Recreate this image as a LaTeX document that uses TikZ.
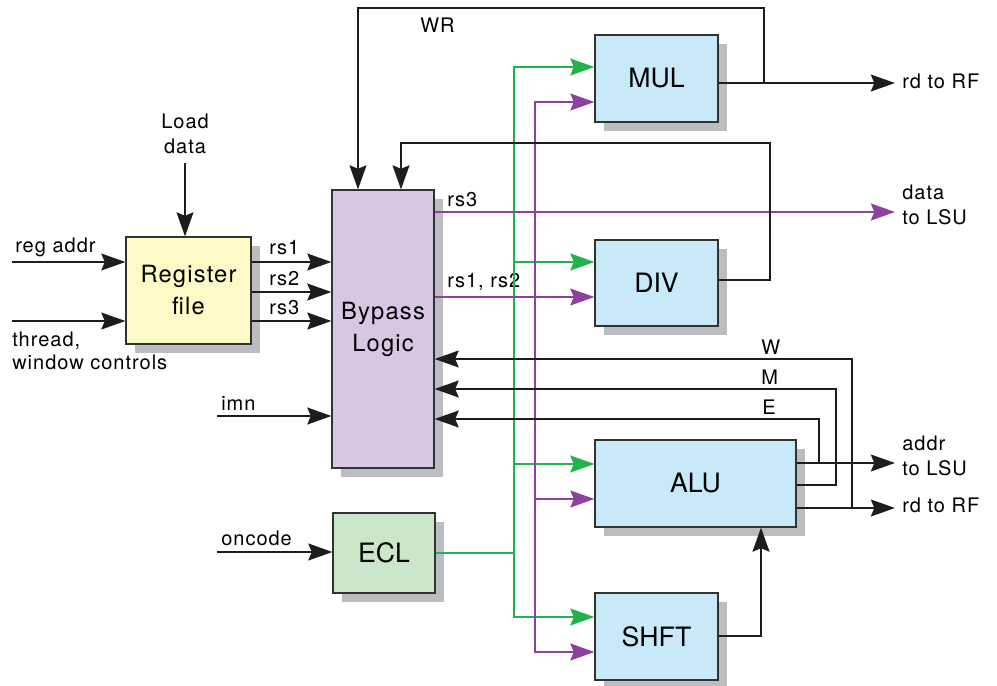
\documentclass[tikz,border=0pt]{standalone}
\usepackage{fontspec}
\setmainfont{TeX Gyre Heros}
\newfontfamily\trackfont[LetterSpace=5]{TeX Gyre Heros}
\newfontfamily\lblfont[LetterSpace=5]{TeX Gyre Heros}
\usetikzlibrary{arrows.meta,shadows}
\definecolor{yfill}{RGB}{253,250,200}
\definecolor{lavfill}{RGB}{216,199,226}
\definecolor{bfill}{RGB}{200,233,248}
\definecolor{gfill}{RGB}{204,230,201}
\definecolor{shgrey}{RGB}{188,189,193}
\definecolor{gline}{RGB}{34,178,76}
\definecolor{pline}{RGB}{142,64,158}
\definecolor{bline}{RGB}{50,50,50}
\definecolor{wline}{RGB}{30,28,28}
\begin{document}
\begin{tikzpicture}[x=0.75pt,y=-0.75pt,
  >={Stealth[length=18pt,width=12.5pt,inset=2.5pt]},
  box/.style={draw=bline,line width=0.8pt,inner sep=0pt,
    drop shadow={shadow xshift=6.75pt,shadow yshift=-6.75pt,fill=shgrey,opacity=1}},
  bigtxt/.style={font=\fontsize{20}{24}\selectfont},
  midtxt/.style={font=\trackfont\fontsize{17.8}{24}\selectfont,align=center},
  lbl/.style={font=\lblfont\fontsize{15}{19}\selectfont,inner sep=0pt},
  bw/.style={draw=wline,line width=2.2pt},
  gw/.style={draw=gline,line width=2.2pt},
  pw/.style={draw=pline,line width=2.2pt}
]
\useasboundingbox (0,0) rectangle (997,686);

% boxes
\node[box,fill=yfill,midtxt,minimum width=93.75pt,minimum height=80.25pt] (reg) at (188.5,290.5) {Register\\file};
\node[box,fill=lavfill,midtxt,minimum width=76.5pt,minimum height=208.5pt] (byp) at (383,329) {Bypass\\Logic};
\node[box,fill=bfill,bigtxt,minimum width=92.25pt,minimum height=65.25pt] (mul) at (656.5,78.5) {MUL};
\node[box,fill=bfill,bigtxt,minimum width=92.25pt,minimum height=64.5pt] (div) at (656.5,283) {DIV};
\node[box,fill=bfill,bigtxt,minimum width=150.75pt,minimum height=65.25pt] (alu) at (695.5,483.5) {ALU};
\node[box,fill=bfill,bigtxt,minimum width=92.25pt,minimum height=65.25pt] (shft) at (656.5,636.5) {SHFT};
\node[box,fill=gfill,bigtxt,minimum width=76.5pt,minimum height=60pt] (ecl) at (384,553) {ECL};

% free ends
\coordinate (loadsrc) at (185,163);
\coordinate (regaddr) at (12,262);
\coordinate (thr) at (12,321);
\coordinate (imnsrc) at (217,416);
\coordinate (oncsrc) at (217,552);
\coordinate (rdrf1) at (895,83);
\coordinate (dlsu) at (895,212);
\coordinate (alsu) at (895,463);
\coordinate (rdrf2) at (895,508);

% labels
\node[lbl,align=center,anchor=north] (tload) at (185,113.5) {Load\\data};
\node[lbl,anchor=base west] (tregaddr) at (15,252) {reg addr};
\node[lbl,align=left,anchor=north west,font=\lblfont\fontsize{15}{17.3}\selectfont] (tthr) at (12,331.5) {thread,\\window controls};
\node[lbl,anchor=base west] (trs1) at (269,254) {rs1};
\node[lbl,anchor=base west] (trs2) at (269,285) {rs2};
\node[lbl,anchor=base west] (trs3) at (269,314) {rs3};
\node[lbl,anchor=base west] (timn) at (221,410) {imn};
\node[lbl,anchor=base west] (tonc) at (221,545) {oncode};
\node[lbl,anchor=base west] (twr) at (420,32) {WR};
\node[lbl,anchor=base west] (tbrs3) at (447,206) {rs3};
\node[lbl,anchor=base west] (tbrs12) at (447,287) {rs1, rs2};
\node[lbl,anchor=base west] (tw) at (761,354) {W};
\node[lbl,anchor=base west] (tm) at (761,384) {M};
\node[lbl,anchor=base west] (te) at (762,414) {E};
\node[lbl,anchor=base west] (trd1) at (902,88) {rd to RF};
\node[lbl,align=left,anchor=north west] (tdlsu) at (902,184.5) {data\\to LSU};
\node[lbl,align=left,anchor=north west] (talsu) at (902,435.5) {addr\\to LSU};
\node[lbl,anchor=base west] (trd2) at (902,512) {rd to RF};

% left inputs
\draw[bw,->] (loadsrc) -- (loadsrc |- reg.north);
\draw[bw,->] (regaddr) -- (reg.west |- regaddr);
\draw[bw,->] (thr) -- (reg.west |- thr);
\draw[bw,->] (reg.east |- 0,262) -- (byp.west |- 0,262);
\draw[bw,->] (reg.east |- 0,292) -- (byp.west |- 0,292);
\draw[bw,->] (reg.east |- 0,321) -- (byp.west |- 0,321);
\draw[bw,->] (imnsrc) -- (byp.west |- imnsrc);
\draw[bw,->] (oncsrc) -- (ecl.west |- oncsrc);

% green control tree
\draw[gw,<->] (shft.west |- 0,617) -| (514,67) -- (mul.west |- 0,67);
\draw[gw,->] (514,262) -- (div.west |- 0,262);
\draw[gw,->] (514,464) -- (alu.west |- 0,464);
\draw[gw] (ecl.east) -- (514,553);

% purple operand tree
\draw[pw,<->] (shft.west |- 0,652) -| (535,102) -- (mul.west |- 0,102);
\draw[pw,->] (byp.east |- 0,297) -- (div.west |- 0,297);
\draw[pw,->] (535,499) -- (alu.west |- 0,499);
\draw[pw,->] (byp.east |- 0,212) -- (dlsu);

% MUL output and WR
\draw[bw,->] (mul.east |- rdrf1) -- (rdrf1);
\draw[bw,->] (764,83) |- (358,8) -- (byp.north -| 358,8);
% DIV output
\draw[bw,->] (div.east |- 0,280) -| (770,143) -| (byp.north -| 401,0);

% ALU outputs
\draw[bw,->] (alu.east |- alsu) -- (alsu);
\draw[bw,->] (alu.east |- rdrf2) -- (rdrf2);
\draw[bw,->] (852,508) |- (byp.east |- 0,359);
\draw[bw,->] (alu.east |- 0,485) -| (836,389) -- (byp.east |- 0,389);
\draw[bw,->] (819,463) |- (byp.east |- 0,419);

% SHFT output
\draw[bw,->] (shft.east |- 0,636) -| (alu.south -| 761,0);
\end{tikzpicture}
\end{document}
